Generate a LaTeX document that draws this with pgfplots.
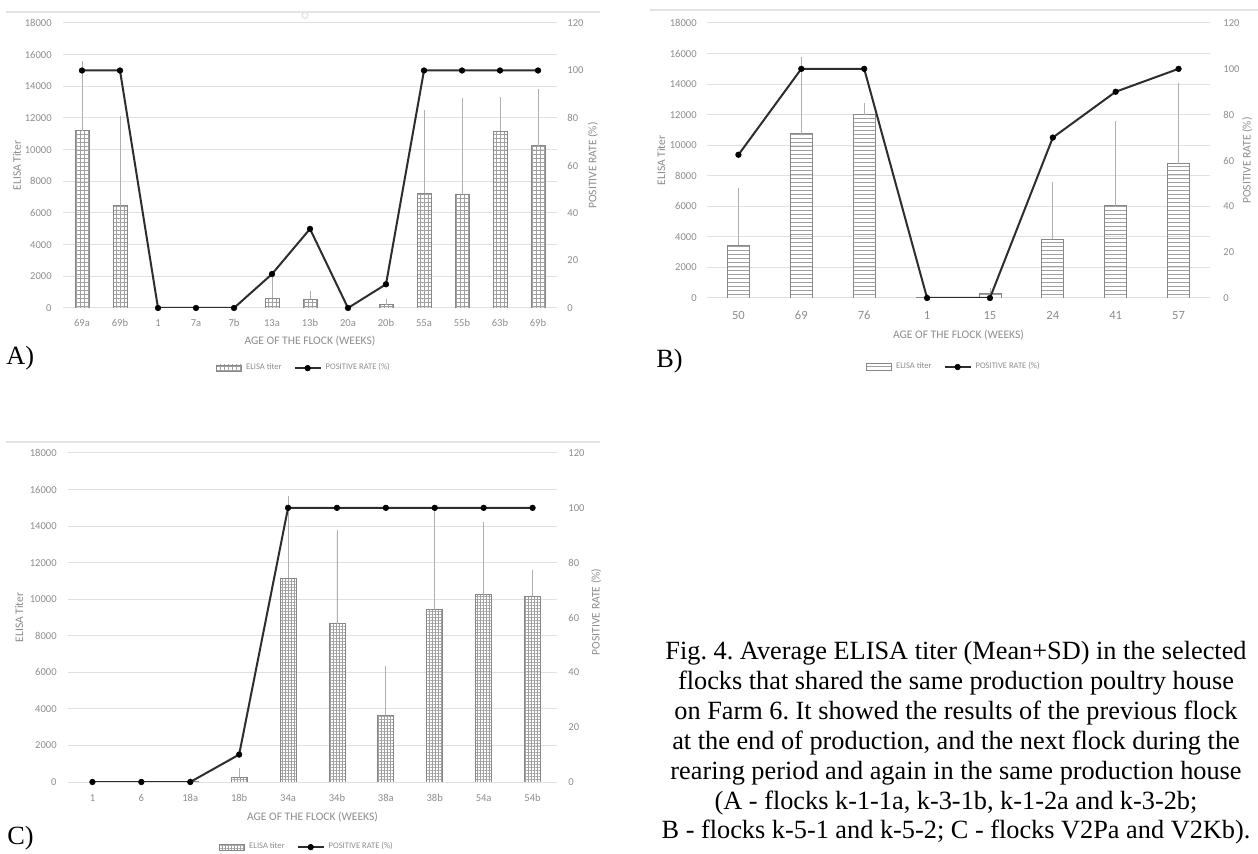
\documentclass[border=0pt]{standalone}
\usepackage{fontspec}
\setmainfont{Liberation Serif}
\newfontfamily\calibri{Carlito}
\usepackage{pgfplots}
\pgfplotsset{compat=1.18}
\usepackage{pgfplotstable}
\usetikzlibrary{patterns.meta}
\frenchspacing

\definecolor{txtgray}{RGB}{140,140,140}
\definecolor{gridgray}{RGB}{224,224,224}
\definecolor{bargray}{RGB}{135,135,135}
\definecolor{patgray}{RGB}{160,160,160}
\definecolor{errgray}{RGB}{175,175,175}
\definecolor{linecol}{RGB}{45,45,45}
\definecolor{bordergray}{RGB}{228,228,228}

\pgfplotsset{
 base/.style={
   scale only axis, anchor=south west,
   axis line style={draw=none}, tick style={draw=none},
   tick label style={font=\calibri\fontsize{5.3}{6}\selectfont, text=txtgray},
   label style={font=\calibri\fontsize{5.8}{7}\selectfont, text=txtgray},
   /pgf/number format/assume math mode=true,
   /pgf/number format/1000 sep={},
   scaled y ticks=false,
 },
 barleg/.style={legend image code/.code={\draw[##1] (0bp,-1.6bp) rectangle (12.5bp,1.6bp);}},
 lineleg/.style={legend image code/.code={\draw[mark repeat=2,mark phase=2,##1] plot coordinates {(0bp,0bp) (6.5bp,0bp) (13bp,0bp)};}},
 bars/.style={ybar, draw=bargray, line width=0.4bp, pattern color=patgray,
   error bars/y dir=plus, error bars/y explicit,
   error bars/error bar style={draw=errgray, line width=0.4bp},
   error bars/error mark options={draw=errgray, mark size=1.5bp, line width=0.4bp}},
 rateline/.style={draw=linecol, line width=1bp, mark=*, mark size=1.4bp, mark options={fill=black, draw=black, line width=0.3bp}},
 legst/.style={legend style={at={(#1)}, anchor=center, draw=none, fill=none, legend columns=2, font=\calibri\fontsize{4.3}{5}\selectfont, text=txtgray, inner sep=0pt, /tikz/every even column/.append style={column sep=4bp}}},
}

\pgfplotstableread{
x mean sd rate
0 11200 4200 100
1 6450 5500 100
2 0 0 0
3 0 0 0
4 0 0 0
5 600 1500 14.3
6 550 350 33.3
7 0 0 0
8 250 150 10
9 7250 5050 100
10 7200 5900 100
11 11150 2000 100
12 10250 3400 100
}\dataA

\pgfplotstableread{
x mean sd rate
0 3450 3550 62.5
1 10750 4850 100
2 12000 550 100
3 60 0 0
4 300 150 0
5 3850 3550 70
6 6050 5350 90
7 8800 5050 100
}\dataB

\pgfplotstableread{
x mean sd rate
0 0 0 0
1 20 0 0
2 40 0 0
3 250 350 10
4 11150 4350 100
5 8650 5000 100
6 3650 2550 100
7 9450 5550 100
8 10250 3800 100
9 10150 1300 100
}\dataC

\begin{document}
\begin{tikzpicture}
\path[use as bounding box] (0,0) rectangle (629bp,427bp);
\draw[bordergray, line width=1bp] (3bp,421bp) -- (300bp,421bp);
\draw[bordergray, line width=0.6bp] (152.5bp,419.3bp) circle (1.5bp);
\draw[bordergray, line width=1bp] (325bp,422bp) -- (629bp,422bp);
\draw[bordergray, line width=1bp] (3bp,206bp) -- (300bp,206bp);

% ---------------- Panel A ----------------
\begin{axis}[base, at={(31.5bp,273bp)}, width=247bp, height=142.5bp,
  xmin=-0.5, xmax=12.5, ymin=0, ymax=18000, ytick={0,2000,...,18000},
  xtick={0,...,12}, xticklabels={69a,69b,1,7a,7b,13a,13b,20a,20b,55a,55b,63b,69b},
  ymajorgrids, major grid style={draw=gridgray, line width=0.5bp},
  yticklabel style={inner sep=0pt, xshift=-5.5bp},
  xticklabel style={inner sep=0pt, yshift=-5.5bp},
  ylabel={ELISA Titer}, xlabel={AGE OF THE FLOCK (WEEKS)},
  ylabel style={at={(axis description cs:-0.093,0.5)}, anchor=center},
  xlabel style={at={(axis description cs:0.5,-0.116)}, anchor=center}]
\addplot[bars, bar width=7bp, pattern={Hatch[distance=2bp, angle=0, line width=0.3bp]}]
  table[x=x, y=mean, y error=sd] {\dataA};
\end{axis}
\begin{axis}[base, at={(31.5bp,273bp)}, width=247bp, height=142.5bp,
  axis y line*=right, xmin=-0.5, xmax=12.5, ymin=0, ymax=120, ytick={0,20,...,120},
  xtick=\empty,
  yticklabel style={inner sep=0pt, xshift=5bp},
  ylabel={POSITIVE RATE (\%)},
  ylabel style={at={(axis description cs:1.073,0.5)}, anchor=center},
  legst={0.49,-0.211}]
\addlegendimage{barleg, draw=bargray, line width=0.4bp, pattern={Hatch[distance=2bp, angle=0, line width=0.3bp]}, pattern color=patgray}
\addlegendentry{ELISA titer}
\addplot[rateline, lineleg] table[x=x, y=rate] {\dataA};
\addlegendentry{POSITIVE RATE (\%)}
\end{axis}

% ---------------- Panel B ----------------
\begin{axis}[base, at={(353.5bp,278bp)}, width=251.5bp, height=137.5bp,
  xmin=-0.5, xmax=7.5, ymin=0, ymax=18000, ytick={0,2000,...,18000},
  xtick={0,...,7}, xticklabels={50,69,76,1,15,24,41,57},
  ymajorgrids, major grid style={draw=gridgray, line width=0.5bp},
  yticklabel style={inner sep=0pt, xshift=-5bp},
  xticklabel style={inner sep=0pt, yshift=-6.5bp, font=\calibri\fontsize{6.3}{7}\selectfont},
  ylabel={ELISA Titer}, xlabel={AGE OF THE FLOCK (WEEKS)},
  ylabel style={at={(axis description cs:-0.091,0.5)}, anchor=center},
  xlabel style={at={(axis description cs:0.5,-0.135)}, anchor=center}]
\addplot[bars, bar width=11bp, pattern={Lines[distance=2bp, angle=0, line width=0.3bp]}]
  table[x=x, y=mean, y error=sd] {\dataB};
\end{axis}
\begin{axis}[base, at={(353.5bp,278bp)}, width=251.5bp, height=137.5bp,
  axis y line*=right, xmin=-0.5, xmax=7.5, ymin=0, ymax=120, ytick={0,20,...,120},
  xtick=\empty,
  yticklabel style={inner sep=0pt, xshift=6.5bp},
  ylabel={POSITIVE RATE (\%)},
  ylabel style={at={(axis description cs:1.074,0.5)}, anchor=center},
  legst={0.493,-0.251}]
\addlegendimage{barleg, draw=bargray, line width=0.4bp, pattern={Lines[distance=2bp, angle=0, line width=0.3bp]}, pattern color=patgray}
\addlegendentry{ELISA titer}
\addplot[rateline, lineleg] table[x=x, y=rate] {\dataB};
\addlegendentry{POSITIVE RATE (\%)}
\end{axis}

% ---------------- Panel C ----------------
\begin{axis}[base, at={(34bp,36bp)}, width=244.5bp, height=164.5bp,
  xmin=-0.5, xmax=9.5, ymin=0, ymax=18000, ytick={0,2000,...,18000},
  xtick={0,...,9}, xticklabels={1,6,18a,18b,34a,34b,38a,38b,54a,54b},
  ymajorgrids, major grid style={draw=gridgray, line width=0.5bp},
  yticklabel style={inner sep=0pt, xshift=-5.5bp},
  xticklabel style={inner sep=0pt, yshift=-6bp},
  ylabel={ELISA Titer}, xlabel={AGE OF THE FLOCK (WEEKS)},
  ylabel style={at={(axis description cs:-0.100,0.5)}, anchor=center},
  xlabel style={at={(axis description cs:0.5,-0.106)}, anchor=center}]
\addplot[bars, bar width=8bp, pattern={Hatch[distance=1.5bp, angle=0, line width=0.3bp]}]
  table[x=x, y=mean, y error=sd] {\dataC};
\end{axis}
\begin{axis}[base, at={(34bp,36bp)}, width=244.5bp, height=164.5bp,
  axis y line*=right, xmin=-0.5, xmax=9.5, ymin=0, ymax=120, ytick={0,20,...,120},
  xtick=\empty,
  yticklabel style={inner sep=0pt, xshift=5.5bp},
  ylabel={POSITIVE RATE (\%)},
  ylabel style={at={(axis description cs:1.08,0.517)}, anchor=center},
  legst={0.491,-0.198}]
\addlegendimage{barleg, draw=bargray, line width=0.4bp, pattern={Hatch[distance=1.5bp, angle=0, line width=0.3bp]}, pattern color=patgray}
\addlegendentry{ELISA titer}
\addplot[rateline, lineleg] table[x=x, y=rate] {\dataC};
\addlegendentry{POSITIVE RATE (\%)}
\end{axis}

% panel letters and caption
\node[anchor=west, inner sep=0pt, font=\fontsize{13.2}{15}\selectfont] at (3bp,248bp) {A)};
\node[anchor=west, inner sep=0pt, font=\fontsize{13.2}{15}\selectfont] at (328bp,246.5bp) {B)};
\node[anchor=west, inner sep=0pt, font=\fontsize{13.2}{15}\selectfont] at (3.5bp,8bp) {C)};
\node[anchor=north, align=center, inner sep=0pt, font=\fontsize{13.2}{15}\selectfont] at (478bp,106.5bp)
{Fig. 4. Average ELISA titer (Mean+SD) in the selected\\
flocks that shared the same production poultry house\\
on Farm 6. It showed the results of the previous flock\\
at the end of production, and the next flock during the\\
rearing period and again in the same production house\\
(A - flocks k-1-1a, k-3-1b, k-1-2a and k-3-2b;\\
B - flocks k-5-1 and k-5-2; C - flocks V2Pa and V2Kb).};
\end{tikzpicture}
\end{document}
